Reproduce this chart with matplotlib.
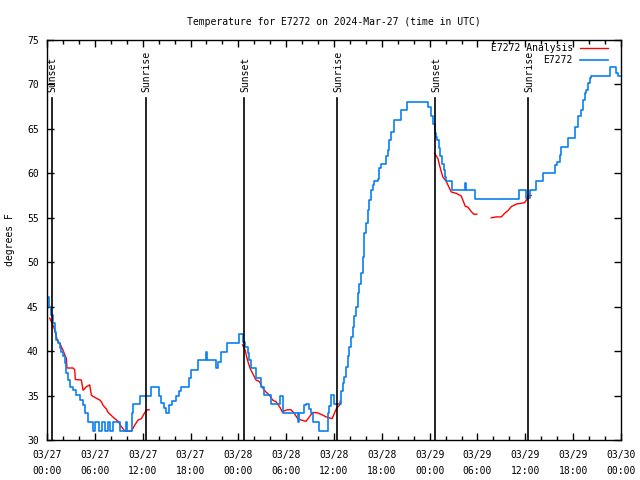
import numpy as np
import matplotlib
matplotlib.use("Agg")
import matplotlib.pyplot as plt
import matplotlib.transforms as mtransforms

plt.rcParams['font.family'] = ['DejaVu Sans Mono']
plt.rcParams['font.size'] = 7

title = "Temperature for E7272 on 2024-Mar-27 (time in UTC)"
ylabel = "degrees F"

# hours since 2024-03-27 00:00 UTC
obs_t = [0.00, 0.31, 0.54, 0.75, 0.97, 1.17, 1.38, 1.60, 1.80, 2.01, 2.22, 2.42, 2.64, 2.85,
         3.27, 3.68, 4.11, 4.52, 4.74, 5.15, 5.78, 5.99, 6.53, 6.91, 7.28, 7.66, 7.91, 8.25,
         9.17, 9.88, 10.09, 10.61, 10.80, 11.64, 13.06, 14.07, 14.28, 14.70, 14.91, 15.32,
         15.70, 16.16, 16.58, 16.79, 17.84, 18.05, 18.88, 19.93, 20.10, 21.19, 21.48, 21.82,
         22.61, 24.12, 24.53, 24.87, 25.16, 25.37, 25.59, 26.21, 26.84, 27.26, 28.10, 29.27,
         29.55, 31.44, 31.65, 32.28, 32.53, 32.91, 33.12, 33.32, 34.16, 35.21, 35.42, 35.63,
         36.05, 36.89, 37.09, 37.30, 37.52, 37.72, 37.93, 38.15, 38.35, 38.56, 38.77, 38.97,
         39.19, 39.40, 39.60, 39.82, 40.03, 40.23, 40.44, 40.66, 40.86, 41.07, 41.48, 41.70,
         41.91, 42.54, 42.74, 42.96, 43.17, 43.58, 44.43, 45.13, 47.77, 48.19, 48.39, 48.61,
         48.82, 48.89, 49.11, 49.32, 49.52, 49.74, 49.95, 50.08, 50.83, 52.38, 52.59, 53.63,
         59.20, 60.13, 60.54, 61.38, 62.21, 63.68, 63.97, 64.31, 64.52, 65.35, 66.19, 66.61,
         67.03, 67.24, 67.45, 67.66, 67.82, 68.07, 68.29, 70.59, 71.43, 71.63, 71.85]
obs_v = [46.1, 45.0, 44.1, 43.2, 42.2, 41.25, 40.9, 40.4, 39.9, 39.4, 38.7, 37.5, 36.75, 36.0,
         35.6, 35.05, 34.5, 33.9, 33.0, 32.0, 31.0, 32.0, 31.0, 32.0, 31.0, 32.0, 31.0, 32.0,
         31.0, 32.0, 31.0, 33.0, 34.0, 35.0, 36.0, 35.0, 34.2, 33.6, 33.0, 33.9,
         34.4, 34.9, 35.5, 36.0, 37.0, 37.9, 39.0, 39.9, 39.0, 38.1, 38.8, 39.9,
         40.95, 41.9, 41.0, 40.5, 39.8, 39.0, 38.1, 37.0, 36.0, 35.06, 34.1, 34.9,
         33.0, 32.0, 33.0, 33.9, 34.0, 33.5, 33.0, 32.0, 31.0, 33.0, 33.8, 35.06,
         34.0, 35.5, 36.4, 37.1, 38.25, 39.4, 40.5, 41.6, 42.75, 43.9, 45.0, 46.5,
         47.6, 48.75, 50.6, 53.25, 54.4, 55.9, 57.0, 58.1, 58.7, 59.1, 59.4, 60.6,
         61.1, 61.9, 62.6, 63.75, 64.7, 66.0, 67.1, 68.0, 67.5, 66.4, 65.6, 64.5,
         64.1, 63.75, 62.8, 61.9, 61.1, 60.4, 59.6, 59.1, 58.1, 58.95, 58.1, 57.1,
         58.1, 57.2, 58.1, 59.1, 60.0, 60.9, 61.3, 62.1, 63.0, 64.0, 65.25, 66.4,
         67.1, 68.25, 69.0, 69.4, 70.2, 70.7, 71.0, 72.0, 71.3, 71.0, 71.0]

# analysis series (NaN = gap)
ana_t = [0.34, 0.75, 0.97, 1.17, 1.38, 1.60, 1.80, 2.01, 2.22, 2.42, 2.51, 3.27, 3.48, 3.55,
         4.31, 4.52, 4.94, 5.36, 5.56, 5.78, 6.19, 6.62, 6.82, 7.03, 7.45, 7.66, 8.08, 8.50,
         8.92, 9.33, 9.76, 10.59, 11.02, 11.43, 11.84, 12.27, 12.56, 12.81, 18.0,
         24.53, 24.87, 25.03, 25.28, 25.50, 25.79, 26.21, 26.63, 26.97, 27.26, 27.47, 27.88,
         28.30, 28.73, 29.05, 29.27, 29.55, 29.77, 30.18, 30.61, 31.02, 31.44, 31.87, 32.49,
         32.91, 33.32, 33.95, 34.58, 35.01, 35.42, 35.76, 36.05, 36.34, 36.68, 36.80, 42.0,
         48.61, 49.02, 49.24, 49.45, 49.65, 50.08, 50.49, 50.71, 51.33, 51.96, 52.16, 52.46,
         52.79, 53.22, 53.54, 53.92, 55.0,
         55.73, 56.36, 56.99, 57.40, 57.82, 58.24, 58.87, 59.28, 59.91, 60.13, 60.33, 60.75]
ana_v = [43.7, 42.9, 42.4, 41.6, 41.06, 40.9, 40.5, 40.1, 39.6, 39.2, 38.1, 38.1, 37.9, 36.8,
         36.75, 35.6, 36.0, 36.2, 35.06, 34.9, 34.7, 34.5, 34.3, 33.9, 33.5, 33.1, 32.75, 32.4,
         32.1, 31.5, 31.0, 31.0, 31.7, 32.25, 32.4, 33.1, 33.4, 33.4, np.nan,
         40.7, 40.1, 39.4, 38.6, 38.0, 37.5, 36.75, 36.6, 36.0, 35.6, 35.4, 35.06,
         34.5, 34.3, 33.9, 33.6, 33.1, 33.3, 33.4, 33.4, 33.0, 32.4, 32.25, 32.1,
         32.6, 33.1, 33.05, 32.8, 32.6, 32.5, 32.4, 33.0, 33.6, 33.9, 34.4, np.nan,
         62.25, 61.7, 60.9, 60.2, 59.6, 59.1, 58.3, 57.9, 57.75, 57.45, 57.0, 56.3,
         56.2, 55.7, 55.4, 55.4, np.nan,
         55.0, 55.1, 55.1, 55.5, 55.8, 56.25, 56.55, 56.6, 56.7, 57.0, 57.5, 57.5]

event_names = ["Sunset", "Sunrise", "Sunset", "Sunrise", "Sunset", "Sunrise"]
event_t = [0.62, 12.40, 24.74, 36.42, 48.72, 60.39]

xtick_pos = [0, 6, 12, 18, 24, 30, 36, 42, 48, 54, 60, 66, 72]
xtick_labels = ["03/27\n00:00", "03/27\n06:00", "03/27\n12:00", "03/27\n18:00",
                "03/28\n00:00", "03/28\n06:00", "03/28\n12:00", "03/28\n18:00",
                "03/29\n00:00", "03/29\n06:00", "03/29\n12:00", "03/29\n18:00",
                "03/30\n00:00"]
ytick_pos = [30, 35, 40, 45, 50, 55, 60, 65, 70, 75]

fig = plt.figure(figsize=(6.4, 4.8), dpi=100)
ax = fig.add_axes([47/640, 40/480, 574/640, 400/480])

ax.plot(ana_t, ana_v, color='#ff0000', lw=1.0, label='E7272 Analysis')
ax.plot(obs_t, obs_v, color='#0a80f0', lw=1.2, drawstyle='steps-post', label='E7272')

for name, t in zip(event_names, event_t):
    ax.axvline(t, ymin=0, ymax=0.855, color='black', lw=1.2)
    ax.text(t + 0.1, 0.87, name, rotation=90, ha='center', va='bottom',
            transform=mtransforms.blended_transform_factory(ax.transData, ax.transAxes))

ax.set_xlim(0, 72)
ax.set_ylim(30, 75)
ax.set_xticks(xtick_pos)
ax.set_xticklabels(xtick_labels, linespacing=1.75)
ax.set_xticks(np.arange(0, 73, 2), minor=True)
ax.set_yticks(ytick_pos)
ax.tick_params(which='both', direction='in', top=True, right=True, width=1)
ax.tick_params(which='major', length=5)
ax.tick_params(which='minor', length=3)
ax.tick_params(axis='x', pad=7)
ax.tick_params(axis='y', pad=6)
for s in ax.spines.values():
    s.set_linewidth(1.0)

ax.set_title(title, fontsize=7, pad=11)
fig.text(10/640, 0.5, ylabel, rotation=90, ha='center', va='center')

ax.legend(loc='upper right', bbox_to_anchor=(608/640, 1 - 43/480),
          bbox_transform=fig.transFigure, frameon=False, markerfirst=False,
          handlelength=2.9, handletextpad=0.7, labelspacing=0.25,
          borderpad=0, borderaxespad=0, fontsize=7)

fig.savefig('out.png', dpi=100)
